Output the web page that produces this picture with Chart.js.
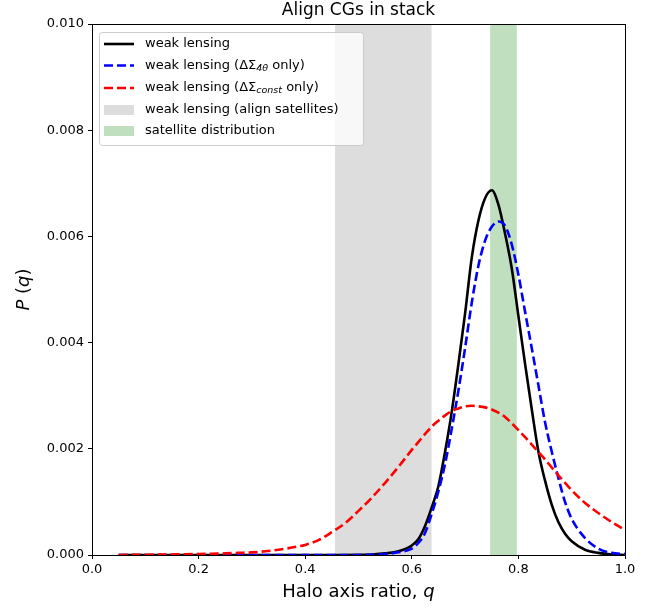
<!DOCTYPE html>
<html>
<head>
<meta charset="utf-8">
<script src="https://cdn.jsdelivr.net/npm/chart.js@4.4.1/dist/chart.umd.min.js"></script>
<style>
  html, body { margin: 0; padding: 0; background: #fff; }
  #wrap { width: 663px; height: 610px; }
</style>
</head>
<body>
<div id="wrap"><canvas id="chart" width="663" height="610"></canvas></div>
<script>
// halo axis ratio grid (finer around the peaks)
const qValues = [0.05, 0.075, 0.1, 0.125, 0.15, 0.175, 0.2, 0.225, 0.25, 0.275, 0.3, 0.325, 0.35, 0.375, 0.4, 0.425, 0.45, 0.475, 0.5, 0.525, 0.55, 0.575, 0.6,
  0.6125, 0.625, 0.6375, 0.65, 0.6625, 0.675, 0.6875, 0.7, 0.7125, 0.725, 0.7375, 0.75, 0.7625, 0.775, 0.7875, 0.8, 0.8125, 0.825, 0.8375, 0.85, 0.8625, 0.875, 0.8875, 0.9,
  0.925, 0.95, 0.975, 1.0];

// weak lensing (black)
const pWeakLensing = [0, 0, 0, 0, 0, 0, 0, 0, 0, 0, 0, 0, 0, 0, 0, 0, 0, 0, 0.000002, 0.00001, 0.00003, 0.00007, 0.00018,
  0.0003, 0.00055, 0.0009, 0.0013, 0.00195, 0.0027, 0.0036, 0.00455, 0.0056, 0.0063, 0.00672, 0.00687, 0.0066, 0.00605, 0.0054, 0.0045, 0.0036, 0.00275, 0.00195, 0.0014, 0.00095, 0.00062, 0.0004, 0.00026,
  0.0001, 0.00004, 0.00001, 0];

// weak lensing, DeltaSigma_4theta only (blue dashed)
const pFourTheta = [0, 0, 0, 0, 0, 0, 0, 0, 0, 0, 0, 0, 0, 0, 0, 0, 0, 0, 0, 0.000005, 0.00002, 0.00005, 0.00012,
  0.00023, 0.00042, 0.00078, 0.0012, 0.00172, 0.00238, 0.0031, 0.0039, 0.00475, 0.00545, 0.00592, 0.00618, 0.00628, 0.0062, 0.00585, 0.00528, 0.00458, 0.0039, 0.0032, 0.0025, 0.00195, 0.00145, 0.001, 0.00068,
  0.00032, 0.00012, 0.00004, 0.00002];

// weak lensing, DeltaSigma_const only (red dashed)
const pConst = [0, 0.000003, 0.000005, 0.000007, 0.00001, 0.000013, 0.000018, 0.000024, 0.00003, 0.00004, 0.00005, 0.00007, 0.0001, 0.00014, 0.00019, 0.00028, 0.00043, 0.0006, 0.00083, 0.00108, 0.00136, 0.00166, 0.00198,
  0.00213, 0.00228, 0.00242, 0.00253, 0.00263, 0.00271, 0.00276, 0.0028, 0.00281, 0.0028, 0.00278, 0.00274, 0.00268, 0.0026, 0.00248, 0.00235, 0.00222, 0.00208, 0.00194, 0.0018, 0.00165, 0.0015, 0.00136, 0.00122,
  0.00098, 0.00079, 0.00062, 0.00047];

// shaded ranges in q
const alignSatBand = [0.456, 0.637];
const satDistBand = [0.747, 0.797];

const xTicks = [0.0, 0.2, 0.4, 0.6, 0.8, 1.0];
const yTicks = [0.000, 0.002, 0.004, 0.006, 0.008, 0.010];

const FONT = "'DejaVu Sans', 'Liberation Sans', sans-serif";
const toXY = arr => arr.map((v, i) => ({ x: qValues[i], y: v }));

const bandsAndFrame = {
    id: 'bandsAndFrame',
    beforeDatasetsDraw(chart) {
        const { ctx, chartArea: a, scales: { x } } = chart;
        ctx.save();
        ctx.fillStyle = 'rgb(221,221,221)';
        ctx.fillRect(x.getPixelForValue(alignSatBand[0]), a.top, x.getPixelForValue(alignSatBand[1]) - x.getPixelForValue(alignSatBand[0]), a.bottom - a.top);
        ctx.fillStyle = 'rgb(191,223,191)';
        ctx.fillRect(x.getPixelForValue(satDistBand[0]), a.top, x.getPixelForValue(satDistBand[1]) - x.getPixelForValue(satDistBand[0]), a.bottom - a.top);
        ctx.restore();
    },
    afterDraw(chart) {
        const { ctx, chartArea: a } = chart;
        ctx.save();
        // frame
        ctx.strokeStyle = '#000';
        ctx.lineWidth = 1;
        ctx.strokeRect(Math.round(a.left) + 0.5, Math.round(a.top) + 0.5, Math.round(a.right - a.left), Math.round(a.bottom - a.top));

        // title
        ctx.fillStyle = '#000';
        ctx.textAlign = 'center';
        ctx.textBaseline = 'middle';
        ctx.font = '17px ' + FONT;
        ctx.fillText('Align CGs in stack', (a.left + a.right) / 2, 11);

        // x label
        ctx.textAlign = 'left';
        ctx.font = '18px ' + FONT;
        const xl1 = 'Halo axis ratio, ';
        const w1 = ctx.measureText(xl1).width;
        ctx.font = 'italic 18px ' + FONT;
        const w2 = ctx.measureText('q').width;
        let sx = (a.left + a.right) / 2 - (w1 + w2) / 2;
        ctx.font = '18px ' + FONT;
        ctx.fillText(xl1, sx, 592);
        ctx.font = 'italic 18px ' + FONT;
        ctx.fillText('q', sx + w1, 592);

        // y label
        ctx.translate(24, (a.top + a.bottom) / 2);
        ctx.rotate(-Math.PI / 2);
        const yParts = [['P', 'italic'], [' (', ''], ['q', 'italic'], [')', '']];
        let tw = 0;
        yParts.forEach(p => { ctx.font = (p[1] ? p[1] + ' ' : '') + '18px ' + FONT; tw += ctx.measureText(p[0]).width; });
        let px = -tw / 2;
        yParts.forEach(p => {
            ctx.font = (p[1] ? p[1] + ' ' : '') + '18px ' + FONT;
            ctx.fillText(p[0], px, 0);
            px += ctx.measureText(p[0]).width;
        });
        ctx.restore();

        // legend
        ctx.save();
        const lx = 99, ly = 32, lw = 264, lh = 113;
        ctx.beginPath();
        ctx.roundRect(lx + 0.5, ly + 0.5, lw, lh, 3);
        ctx.fillStyle = 'rgba(255,255,255,0.8)';
        ctx.fill();
        ctx.strokeStyle = '#cccccc';
        ctx.lineWidth = 1;
        ctx.stroke();

        const rows = [44, 65.5, 88, 110, 131];
        const sampleX0 = 104, sampleX1 = 134, textX = 145;
        ctx.lineWidth = 2.6;
        // line samples
        [['#000', []], ['#0000ff', [9, 4]], ['#ff0000', [9, 4]]].forEach((s, i) => {
            ctx.strokeStyle = s[0];
            ctx.setLineDash(s[1]);
            ctx.beginPath();
            ctx.moveTo(sampleX0, rows[i]);
            ctx.lineTo(sampleX1, rows[i]);
            ctx.stroke();
        });
        ctx.setLineDash([]);
        ctx.fillStyle = 'rgb(221,221,221)';
        ctx.fillRect(sampleX0, rows[3] - 5, sampleX1 - sampleX0, 10);
        ctx.fillStyle = 'rgb(191,223,191)';
        ctx.fillRect(sampleX0, rows[4] - 5, sampleX1 - sampleX0, 10);

        ctx.fillStyle = '#000';
        ctx.textAlign = 'left';
        ctx.textBaseline = 'middle';
        const norm = '13px ' + FONT, sub = 'italic 9.5px ' + FONT;
        const rich = (parts, y) => {
            let x = textX;
            parts.forEach(p => {
                ctx.font = p[1];
                ctx.fillText(p[0], x, y + (p[2] || 0));
                x += ctx.measureText(p[0]).width;
            });
        };
        rich([['weak lensing', norm]], rows[0]);
        rich([['weak lensing (\u0394\u03A3', norm], ['4\u03B8', sub, 3], [' only)', norm]], rows[1]);
        rich([['weak lensing (\u0394\u03A3', norm], ['const', sub, 3], [' only)', norm]], rows[2]);
        rich([['weak lensing (align satellites)', norm]], rows[3]);
        rich([['satellite distribution', norm]], rows[4]);
        ctx.restore();
    }
};

new Chart(document.getElementById('chart').getContext('2d'), {
    type: 'line',
    data: {
        datasets: [
            { label: 'weak lensing (\u0394\u03A3 const only)', data: toXY(pConst), borderColor: '#ff0000', borderWidth: 2.6, borderDash: [9, 4], order: 0 },
            { label: 'weak lensing (\u0394\u03A3 4\u03B8 only)', data: toXY(pFourTheta), borderColor: '#0000ff', borderWidth: 2.6, borderDash: [9, 4], order: 1 },
            { label: 'weak lensing', data: toXY(pWeakLensing), borderColor: '#000000', borderWidth: 2.6, order: 2 }
        ]
    },
    options: {
        responsive: false,
        animation: false,
        devicePixelRatio: 1,
        layout: { padding: { top: 24, right: 38, left: 0, bottom: 0 } },
        elements: { point: { radius: 0 }, line: { cubicInterpolationMode: 'monotone', fill: false } },
        plugins: { legend: { display: false }, tooltip: { enabled: false }, title: { display: false } },
        scales: {
            x: {
                type: 'linear', min: 0, max: 1,
                afterBuildTicks: s => { s.ticks = xTicks.map(v => ({ value: v })); },
                afterFit: s => { s.height = 55; },
                grid: { drawOnChartArea: false, drawTicks: true, tickLength: 4, color: '#000' },
                border: { display: true, color: '#000' },
                ticks: { color: '#000', padding: 3, maxRotation: 0, font: { family: FONT, size: 13 }, callback: v => Number(v).toFixed(1) }
            },
            y: {
                type: 'linear', min: 0, max: 0.010,
                afterBuildTicks: s => { s.ticks = yTicks.map(v => ({ value: v })); },
                afterFit: s => { s.width = 92; },
                grid: { drawOnChartArea: false, drawTicks: true, tickLength: 4, color: '#000' },
                border: { display: true, color: '#000' },
                ticks: { color: '#000', padding: 4, font: { family: FONT, size: 13 }, callback: v => Number(v).toFixed(3) }
            }
        }
    },
    plugins: [bandsAndFrame]
});
</script>
</body>
</html>
